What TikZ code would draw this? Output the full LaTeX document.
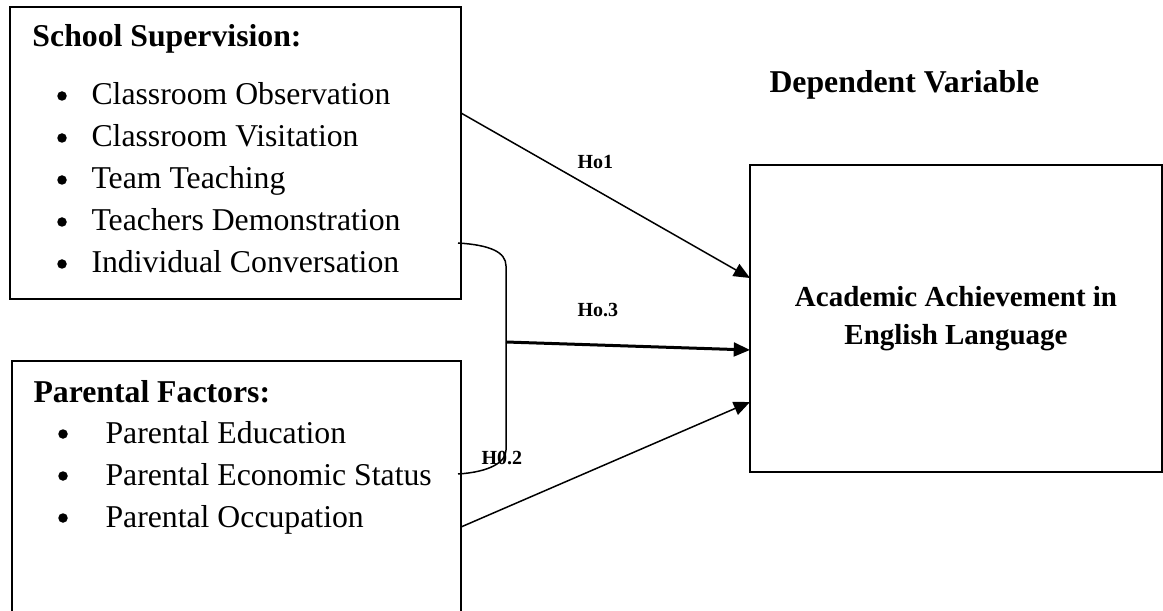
\documentclass[tikz,border=0pt]{standalone}
\usepackage{fontspec}
\setmainfont{Liberation Serif}
\usetikzlibrary{positioning,calc,arrows.meta}

\tikzset{
  box/.style={draw, line width=0.8pt, inner sep=0pt, outer sep=0pt},
  item/.style={anchor=base west, inner sep=0pt, font=\fontsize{12.7}{15}\selectfont},
  dot/.style={circle, fill, inner sep=0pt, minimum size=3.8pt},
  head/.style={anchor=base west, inner sep=0pt, font=\fontsize{12.7}{15}\selectfont\bfseries},
  hyp/.style={anchor=base west, inner sep=0pt, font=\fontsize{8}{10}\selectfont\bfseries},
  arr/.style={-{Triangle[length=6.5pt,width=5.5pt]}, line width=0.6pt},
}

\begin{document}
\begin{tikzpicture}[x=0.4pt,y=-0.4pt]
    \useasboundingbox (0,0) rectangle (1163,611);

    % Draw the boxes
    \node[box, minimum width=180.4pt, minimum height=116.8pt] (super) at (235.5,153) {};
    \node[box, minimum width=179.6pt, minimum height=115.2pt] (parent) at (236.5,505) {};
    \node[box, minimum width=164.8pt, minimum height=122.8pt, align=center,
          font=\fontsize{11.6}{15.2}\selectfont\bfseries] (achieve) at (956,318.5)
          {Academic Achievement in\\English Language};

    % School supervision list
    \node[head] (superhead) at (32,47) {School Supervision:};
    \foreach \txt [count=\i] in {Classroom Observation, Classroom Visitation, Team Teaching,
                                 Teachers Demonstration, Individual Conversation} {
        \node[dot] (sb\i) at (62,54+42*\i) {};
        \node[item] (si\i) at (91,63+42*\i) {\txt};
    }

    % Parental factors list
    \node[head] (parenthead) at (33,402) {Parental Factors:};
    \foreach \txt [count=\i] in {Parental Education, Parental Economic Status, Parental Occupation} {
        \node[dot] (pb\i) at (63,392+42*\i) {};
        \node[item] (pi\i) at (105,401+42*\i) {\txt};
    }

    \node[head] (dephead) at (769,93) {Dependent Variable};

    % Hypotheses
    \coordinate (joint) at (506,342);
    \draw[arr] ($(super.north east)+(0,106)$) -- ($(achieve.north west)+(0,113)$);
    \draw[line width=0.6pt] ($(super.north east)+(-3,236)$) .. controls (490,245) and (506,252) .. (506,266)
        -- (506,450) .. controls (506,462) and (490,472) .. ($(parent.north east)+(-3,113)$);
    \draw[arr, line width=1.2pt] (joint) -- ($(achieve.west)+(0,31.5)$);
    \draw[arr] ($(parent.north east)+(0,166)$) -- ($(achieve.north west)+(0,237)$);

    \node[hyp] (ho1) at (577,169) {Ho1};
    \node[hyp] (ho3) at (577,317) {Ho.3};
    \node[hyp] (ho2) at (481,464) {H0.2};

\end{tikzpicture}
\end{document}
